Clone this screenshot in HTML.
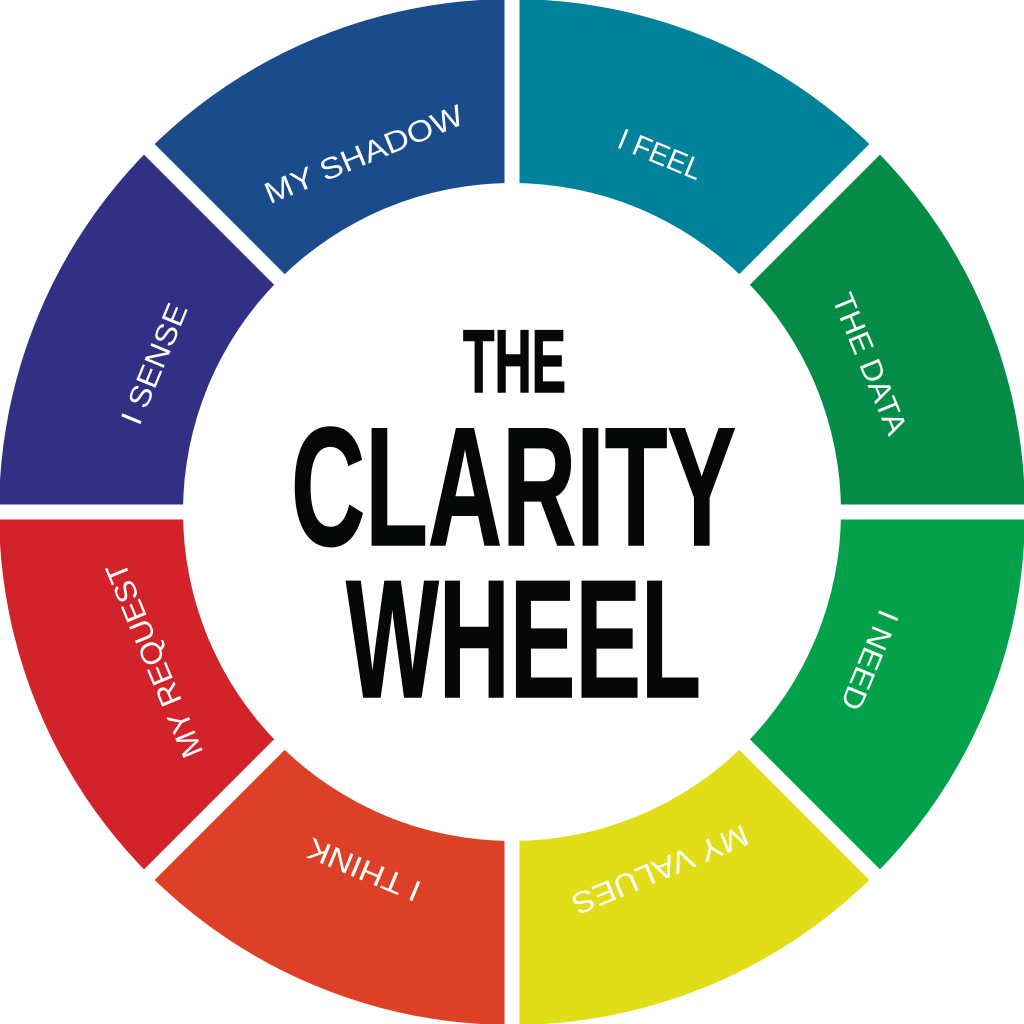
<!DOCTYPE html>
<html>
<head>
<meta charset="utf-8">
<style>
  html, body { margin: 0; padding: 0; background: #ffffff; }
  body { width: 1024px; height: 1024px; overflow: hidden; }
  svg { display: block; }
  .lbl { font-family: "Liberation Sans", sans-serif; font-size: 30px; fill: #ffffff; }
  .ttl { font-family: "Liberation Sans", sans-serif; font-weight: bold; fill: #060808; stroke: #060808; stroke-width: 1.5px; }
</style>
</head>
<body>
<svg width="1024" height="1024" viewBox="0 0 1024 1024" xmlns="http://www.w3.org/2000/svg">
  <rect x="0" y="0" width="1024" height="1024" fill="#ffffff"/>
  <!-- sectors -->
  <path d="M512 512 L512 -1 A513 513 0 0 1 874.7 149.3 Z" fill="#00839a"/>
  <path d="M512 512 L874.7 149.3 A513 513 0 0 1 1025 512 Z" fill="#048c47"/>
  <path d="M512 512 L1025 512 A513 513 0 0 1 874.7 874.7 Z" fill="#04a14b"/>
  <path d="M512 512 L874.7 874.7 A513 513 0 0 1 512 1025 Z" fill="#e1de19"/>
  <path d="M512 512 L512 1025 A513 513 0 0 1 149.3 874.7 Z" fill="#dc4127"/>
  <path d="M512 512 L149.3 874.7 A513 513 0 0 1 -1 512 Z" fill="#d2232a"/>
  <path d="M512 512 L-1 512 A513 513 0 0 1 149.3 149.3 Z" fill="#323084"/>
  <path d="M512 512 L149.3 149.3 A513 513 0 0 1 512 -1 Z" fill="#1a4b8a"/>
  <!-- gaps -->
  <g stroke="#ffffff" stroke-width="15">
    <line x1="512" y1="-10" x2="512" y2="1034"/>
    <line x1="-10" y1="512" x2="1034" y2="512"/>
    <line x1="-10" y1="-10" x2="1034" y2="1034"/>
    <line x1="1034" y1="-10" x2="-10" y2="1034"/>
  </g>
  <!-- inner circle -->
  <circle cx="512" cy="512" r="329" fill="#ffffff"/>

  <!-- segment labels -->
  <text class="lbl" x="512" y="135" text-anchor="middle" textLength="88" lengthAdjust="spacingAndGlyphs" transform="rotate(22.5 512 512)">I FEEL</text>
  <text class="lbl" x="512" y="135" text-anchor="middle" textLength="150" lengthAdjust="spacingAndGlyphs" transform="rotate(67.5 512 512)">THE DATA</text>
  <text class="lbl" x="512" y="135" text-anchor="middle" textLength="105" lengthAdjust="spacingAndGlyphs" transform="rotate(112.5 512 512)">I NEED</text>
  <text class="lbl" x="512" y="135" text-anchor="middle" textLength="188" lengthAdjust="spacingAndGlyphs" transform="rotate(157.5 512 512)">MY VALUES</text>
  <text class="lbl" x="512" y="135" text-anchor="middle" textLength="120" lengthAdjust="spacingAndGlyphs" transform="rotate(202.5 512 512)">I THINK</text>
  <text class="lbl" x="512" y="135" text-anchor="middle" textLength="208" lengthAdjust="spacingAndGlyphs" transform="rotate(247.5 512 512)">MY REQUEST</text>
  <text class="lbl" x="512" y="135" text-anchor="middle" textLength="128" lengthAdjust="spacingAndGlyphs" transform="rotate(292.5 512 512)">I SENSE</text>
  <text class="lbl" x="512" y="135" text-anchor="middle" textLength="212" lengthAdjust="spacingAndGlyphs" transform="rotate(337.5 512 512)">MY SHADOW</text>

  <!-- title -->
  <text class="ttl" x="463" y="392" font-size="89" textLength="103" lengthAdjust="spacingAndGlyphs">THE</text>
  <text class="ttl" x="291" y="545" font-size="169" textLength="445" lengthAdjust="spacingAndGlyphs">CLARITY</text>
  <text class="ttl" x="346" y="697" font-size="168" textLength="355" lengthAdjust="spacingAndGlyphs">WHEEL</text>
</svg>
</body>
</html>
